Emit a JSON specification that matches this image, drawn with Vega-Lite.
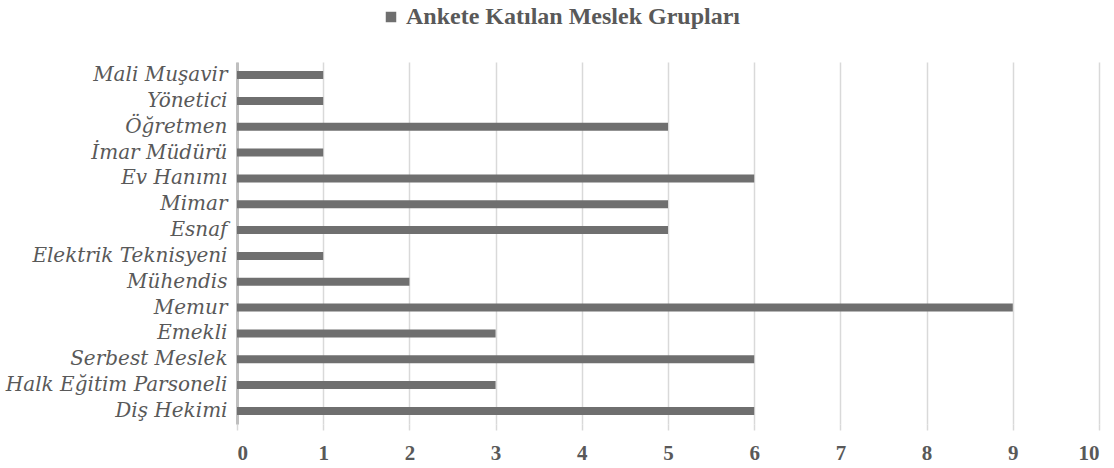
{
  "$schema": "https://vega.github.io/schema/vega-lite/v6.json",
  "autosize": {"type": "none"},
  "width": 862,
  "height": 362,
  "padding": {"left": 237, "top": 62, "right": 15, "bottom": 44},
  "background": "white",
  "data": {"values": [
    {"meslek": "Mali Muşavir", "sayi": 1, "seri": "Ankete Katılan Meslek Grupları"},
    {"meslek": "Yönetici ", "sayi": 1, "seri": "Ankete Katılan Meslek Grupları"},
    {"meslek": "Öğretmen ", "sayi": 5, "seri": "Ankete Katılan Meslek Grupları"},
    {"meslek": "İmar Müdürü", "sayi": 1, "seri": "Ankete Katılan Meslek Grupları"},
    {"meslek": "Ev Hanımı", "sayi": 6, "seri": "Ankete Katılan Meslek Grupları"},
    {"meslek": "Mimar", "sayi": 5, "seri": "Ankete Katılan Meslek Grupları"},
    {"meslek": "Esnaf", "sayi": 5, "seri": "Ankete Katılan Meslek Grupları"},
    {"meslek": "Elektrik Teknisyeni", "sayi": 1, "seri": "Ankete Katılan Meslek Grupları"},
    {"meslek": "Mühendis", "sayi": 2, "seri": "Ankete Katılan Meslek Grupları"},
    {"meslek": "Memur", "sayi": 9, "seri": "Ankete Katılan Meslek Grupları"},
    {"meslek": "Emekli", "sayi": 3, "seri": "Ankete Katılan Meslek Grupları"},
    {"meslek": "Serbest Meslek", "sayi": 6, "seri": "Ankete Katılan Meslek Grupları"},
    {"meslek": "Halk Eğitim Parsoneli", "sayi": 3, "seri": "Ankete Katılan Meslek Grupları"},
    {"meslek": "Diş Hekimi", "sayi": 6, "seri": "Ankete Katılan Meslek Grupları"}
  ]},
  "mark": {"type": "bar"},
  "encoding": {
    "y": {
      "field": "meslek", "type": "nominal", "sort": null,
      "scale": {"paddingInner": 0.69, "paddingOuter": 0.35},
      "axis": {
        "title": null, "ticks": false,
        "domainColor": "#bfbfbf", "domainWidth": 3,
        "labelFont": "DejaVu Serif", "labelFontStyle": "italic",
        "labelFontSize": 20, "labelColor": "#595959", "labelPadding": 10, "labelLimit": 300
      }
    },
    "x": {
      "field": "sayi", "type": "quantitative",
      "scale": {"domain": [0, 10], "nice": false},
      "axis": {
        "title": null, "values": [0,1,2,3,4,5,6,7,8,9,10],
        "domain": false, "ticks": true, "tickColor": "#d9d9d9", "tickSize": 6, "tickWidth": 1.5,
        "grid": true, "gridColor": "#d9d9d9", "gridWidth": 1.5,
        "labelFont": "Liberation Serif", "labelFontWeight": "bold",
        "labelFontSize": 21, "labelColor": "#595959", "labelPadding": 12
      }
    },
    "color": {
      "field": "seri", "type": "nominal",
      "scale": {"range": ["#6f6f6f"]},
      "legend": {
        "title": null, "orient": "none", "legendX": 142, "legendY": -57,
        "symbolType": "square", "symbolSize": 110, "symbolOpacity": 1,
        "labelFont": "Liberation Serif", "labelFontWeight": "bold",
        "labelFontSize": 24, "labelColor": "#595959", "labelLimit": 600, "labelOffset": 3
      }
    }
  },
  "config": {"view": {"stroke": null}}
}
